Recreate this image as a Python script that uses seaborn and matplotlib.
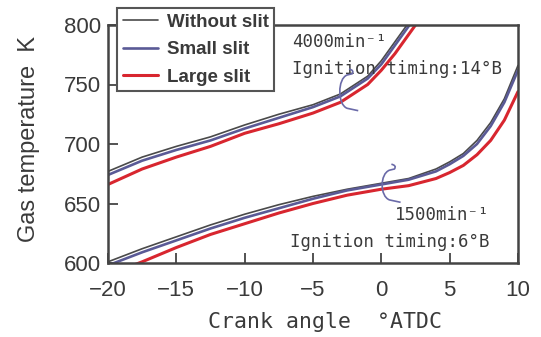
import numpy as np
import pandas as pd
import matplotlib
matplotlib.use("Agg")
import matplotlib.pyplot as plt
from matplotlib.path import Path
from matplotlib.patches import PathPatch
from matplotlib.lines import Line2D
import seaborn as sns

# Gas temperature vs crank angle, 4000 min^-1 (ignition 14 deg BTDC)
crank_4000 = [-20, -17.5, -15, -12.5, -10, -7.5, -5, -3, -1, 0, 1, 2, 3]
without_4000 = [677, 689, 698, 706, 716, 725, 733, 742, 757, 770, 786, 802, 820]
small_4000 = [674, 686, 695, 703, 713, 722, 731, 740, 755, 767, 783, 799, 816]
large_4000 = [666, 679, 689, 698, 709, 717, 726, 735, 750, 762, 776, 792, 808]

# Gas temperature vs crank angle, 1500 min^-1 (ignition 6 deg BTDC)
crank_1500 = [-20, -17.5, -15, -12.5, -10, -7.5, -5, -2.5, 0, 2, 4, 5, 6, 7, 8, 9, 10]
without_1500 = [601, 612, 622, 632, 641, 649, 656, 662, 667, 671, 679, 685, 692, 703, 718, 738, 766]
small_1500 = [598, 609, 619, 629, 638, 646, 654, 661, 666, 670, 677, 683, 690, 700, 715, 735, 762]
large_1500 = [590, 601, 613, 624, 633, 642, 650, 657, 662, 665, 671, 676, 682, 691, 703, 720, 744]

labels = ["Without slit", "Small slit", "Large slit"]
x_ticks = [-20, -15, -10, -5, 0, 5, 10]
y_ticks = [600, 650, 700, 750, 800]

frames = []
for speed, crank, series in [
    ("4000", crank_4000, [without_4000, small_4000, large_4000]),
    ("1500", crank_1500, [without_1500, small_1500, large_1500]),
]:
    for lab, vals in zip(labels, series):
        frames.append(pd.DataFrame({"crank": crank, "temp": vals,
                                    "slit": lab, "speed": speed}))
df = pd.concat(frames, ignore_index=True)

sns.set_theme(style="white")
plt.rcParams["font.family"] = ["Liberation Sans", "DejaVu Sans"]

colors = {"Without slit": "#4a4a4a", "Small slit": "#5a5a96", "Large slit": "#d8262f"}
widths = {"Without slit": 1.2, "Small slit": 1.9, "Large slit": 2.2}
gray = "#444444"
txt = "#3a3a3a"

fig = plt.figure(figsize=(5.41, 3.37), dpi=100)
ax = fig.add_axes([108 / 541, 1 - 263 / 337, 410 / 541, 238 / 337])

for speed in ["4000", "1500"]:
    for lab in labels:
        sub = df[(df.speed == speed) & (df.slit == lab)]
        sns.lineplot(data=sub, x="crank", y="temp", ax=ax, color=colors[lab],
                     lw=widths[lab], estimator=None, sort=False, legend=False)

ax.set_xlim(-20, 10)
ax.set_ylim(600, 800)
ax.set_xticks(x_ticks)
ax.set_yticks(y_ticks)
ax.set_xticklabels([f"\u2212{abs(v)}" if v < 0 else str(v) for v in x_ticks])
ax.tick_params(direction="in", length=7, width=1.3, colors=gray, labelsize=16,
               labelcolor=txt, bottom=True, left=True)
ax.tick_params(axis="x", pad=12)
ax.tick_params(axis="y", pad=5)
for sp in ax.spines.values():
    sp.set_color(gray)
    sp.set_linewidth(1.8)

ax.set_xlabel("Crank angle  \u00b0ATDC", family=["DejaVu Sans Mono"], fontsize=15.5,
              color=txt)
ax.xaxis.set_label_coords(0.529, -0.205)
ax.set_ylabel("Gas temperature  K", fontsize=17, color=txt)
ax.yaxis.set_label_coords(-0.165, 0.52)

mono = ["DejaVu Sans Mono", "DejaVu Sans"]
ax.text(-6.5, 786, "4000min\u207b\u00b9", family=mono, fontsize=12.5, color=txt,
        ha="left", va="center")
ax.text(-6.5, 763, "Ignition timing:14\u00b0B", family=mono, fontsize=12.5,
        color=txt, ha="left", va="center")
ax.text(7.9, 640, "1500min\u207b\u00b9", family=mono, fontsize=12.5, color=txt,
        ha="right", va="center")
ax.text(7.9, 618, "Ignition timing:6\u00b0B", family=mono, fontsize=12.5,
        color=txt, ha="right", va="center")

# group brackets
def bracket(x0, y_top, y_bot, w):
    verts = [(x0 + 0.15 * w, y_top + 2), (x0 + 0.6 * w, y_top + 1), (x0 + 0.4 * w, y_top - 2),
             (x0, y_top - 3),
             (x0 - 0.8 * w, y_top - 6), (x0 - 0.8 * w, y_bot + 4), (x0, y_bot + 1),
             (x0 + 0.9 * w, y_bot - 1)]
    codes = [Path.MOVETO, Path.CURVE3, Path.CURVE3, Path.LINETO,
             Path.CURVE4, Path.CURVE4, Path.CURVE4, Path.LINETO]
    ax.add_patch(PathPatch(Path(verts, codes), fill=False, ec="#6a6aa8", lw=1.2,
                           zorder=5))

bracket(-2.5, 761, 729, 0.9)
bracket(0.6, 681, 652, 0.9)

handles = [Line2D([], [], color=colors[l], lw=widths[l]) for l in labels]
leg = ax.legend(handles, labels, loc="upper left",
                bbox_to_anchor=(117 / 541, 1 - 8 / 337), bbox_transform=fig.transFigure,
                borderaxespad=0, fancybox=False, framealpha=1, edgecolor="#555555",
                fontsize=13.5, handlelength=1.9, handletextpad=0.45, labelspacing=0.55,
                borderpad=0.3)
leg.get_frame().set_linewidth(1.5)
for t in leg.get_texts():
    t.set_color(txt)
    t.set_fontweight("bold")

fig.savefig("out.png", dpi=100)
